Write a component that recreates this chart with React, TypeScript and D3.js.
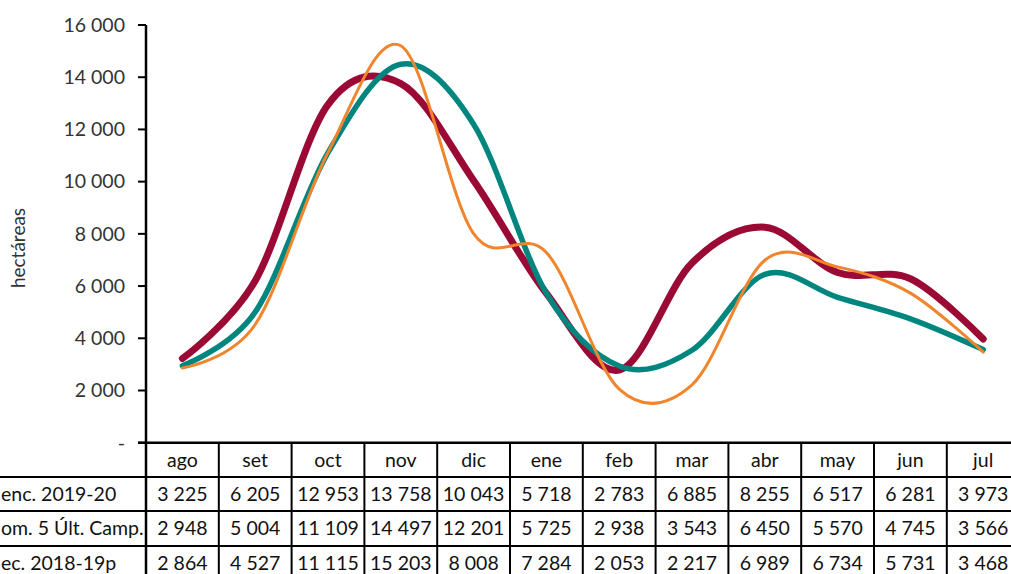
import React from "react";
import * as d3 from "d3";

const months = ["ago", "set", "oct", "nov", "dic", "ene", "feb", "mar", "abr", "may", "jun", "jul"];
const seriesNames = ["enc. 2019-20", "om. 5 Últ. Camp.", "ec. 2018-19p"];
const venc = [3225, 6205, 12953, 13758, 10043, 5718, 2783, 6885, 8255, 6517, 6281, 3973];
const prom = [2948, 5004, 11109, 14497, 12201, 5725, 2938, 3543, 6450, 5570, 4745, 3566];
const prev = [2864, 4527, 11115, 15203, 8008, 7284, 2053, 2217, 6989, 6734, 5731, 3468];
const yTicks = [0, 2000, 4000, 6000, 8000, 10000, 12000, 14000, 16000];

const colors = ["#9A0A34", "#00867F", "#F0852D"];
const widths = [7, 5.5, 3];

const W = 1011;
const H = 574;
const FONT = "Lato, Carlito, Calibri, sans-serif";
const FS = 19.5;

const fmt = (v: number) => {
  if (v === 0) return "-";
  const s = String(v);
  return s.length > 3 ? s.slice(0, s.length - 3) + " " + s.slice(s.length - 3) : s;
};

export default function App() {
  const left = 146;
  const colW = 72.8;
  const x = d3
    .scaleBand<string>()
    .domain(months)
    .range([left, left + colW * months.length])
    .padding(0);
  const y = d3.scaleLinear().domain([0, 16000]).range([442.7, 25]);
  const line = d3
    .line<number>()
    .x((_, i) => (x(months[i]) as number) + x.bandwidth() / 2)
    .y((d) => y(d))
    .curve(d3.curveCardinal.tension(0));

  const data = [venc, prom, prev];
  const rowTops = [442.7, 477, 511, 546, 580];
  const tableRight = left + colW * months.length;

  return (
    <svg width={W} height={H} style={{ position: "absolute", left: 0, top: 0, background: "#fff" }}>
      <text
        transform={`translate(25,248) rotate(-90)`}
        textAnchor="middle"
        fontFamily={FONT}
        fontSize={19}
        fill="#333"
      >
        hectáreas
      </text>
      {yTicks.map((t) => (
        <g key={t}>
          <line x1={138} x2={left} y1={y(t)} y2={y(t)} stroke="#000" strokeWidth={2} />
          <text
            x={125}
            y={y(t)}
            dy="0.35em"
            textAnchor="end"
            fontFamily={FONT}
            fontSize={FS}
            fill="#333"
          >
            {fmt(t)}
          </text>
        </g>
      ))}
      {data.map((d, i) => (
        <path
          key={i}
          d={line(d) || ""}
          fill="none"
          stroke={colors[i]}
          strokeWidth={widths[i]}
          strokeLinecap="round"
          strokeLinejoin="round"
        />
      ))}
      <line x1={138} x2={W} y1={rowTops[0]} y2={rowTops[0]} stroke="#000" strokeWidth={2.5} />
      {rowTops.slice(1, 4).map((ry) => (
        <line key={ry} x1={0} x2={W} y1={ry} y2={ry} stroke="#000" strokeWidth={2} />
      ))}
      <line x1={left} x2={left} y1={25} y2={H} stroke="#000" strokeWidth={2.5} />
      {months.map((m, i) =>
        i === 0 ? null : (
          <line
            key={m}
            x1={x(m) as number}
            x2={x(m) as number}
            y1={rowTops[0]}
            y2={H}
            stroke="#000"
            strokeWidth={2}
          />
        )
      )}
      <line x1={tableRight} x2={tableRight} y1={rowTops[0]} y2={H} stroke="#000" strokeWidth={2} />
      {months.map((m) => (
        <text
          key={m}
          x={(x(m) as number) + x.bandwidth() / 2}
          y={(rowTops[0] + rowTops[1]) / 2}
          dy="0.35em"
          textAnchor="middle"
          fontFamily={FONT}
          fontSize={FS}
          fill="#111"
        >
          {m}
        </text>
      ))}
      {data.map((d, r) => (
        <g key={r}>
          <text
            x={1}
            y={(rowTops[r + 1] + rowTops[r + 2]) / 2}
            dy="0.35em"
            fontFamily={FONT}
            fontSize={FS}
            fill="#111"
          >
            {seriesNames[r]}
          </text>
          {d.map((v, i) => (
            <text
              key={i}
              x={(x(months[i]) as number) + x.bandwidth() / 2}
              y={(rowTops[r + 1] + rowTops[r + 2]) / 2}
              dy="0.35em"
              textAnchor="middle"
              fontFamily={FONT}
              fontSize={FS}
              fill="#111"
            >
              {fmt(v)}
            </text>
          ))}
        </g>
      ))}
    </svg>
  );
}
